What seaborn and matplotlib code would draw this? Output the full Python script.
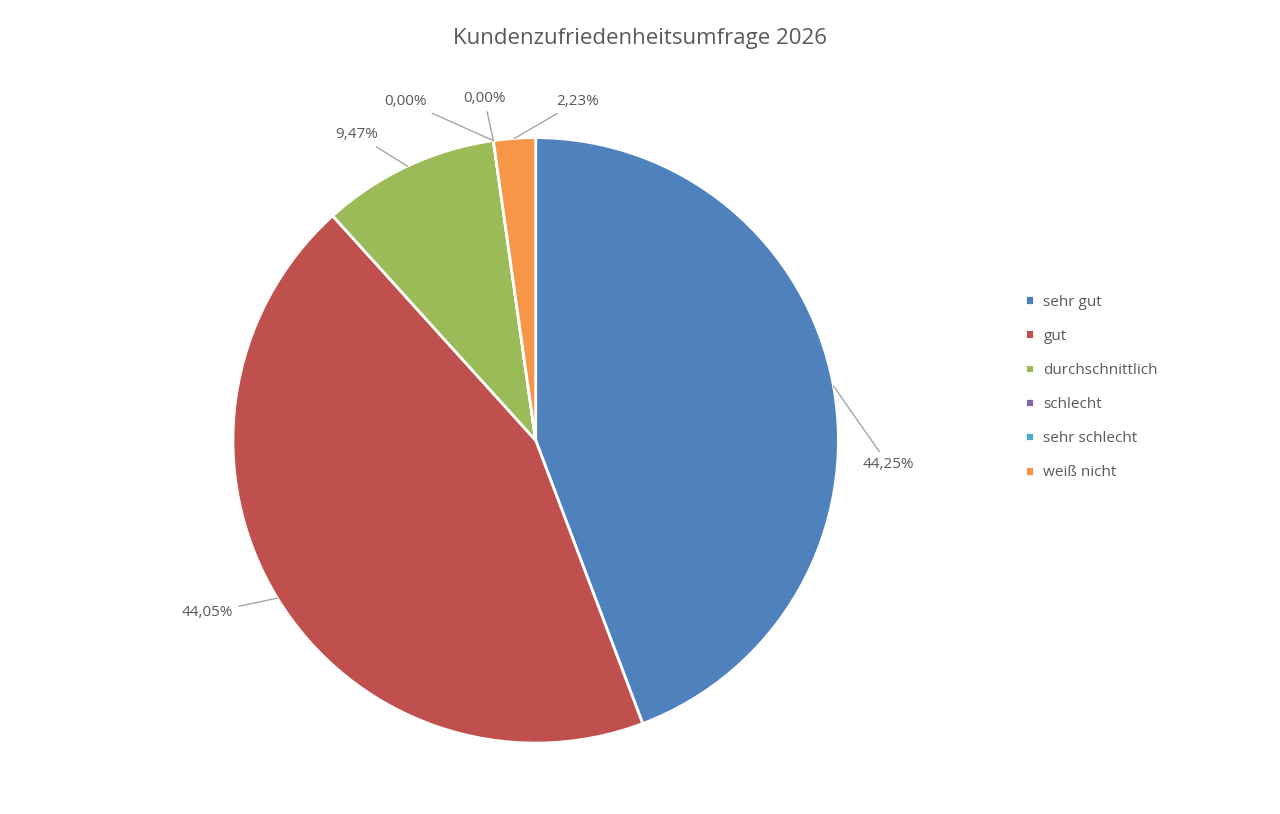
import numpy as np
import matplotlib
matplotlib.use("Agg")
import matplotlib.pyplot as plt
import seaborn as sns

sns.set_theme(style="white")
plt.rcParams['font.family'] = ['Open Sans', 'DejaVu Sans']

categories = ["sehr gut", "gut", "durchschnittlich", "schlecht", "sehr schlecht", "weiß nicht"]
values = [44.25, 44.05, 9.47, 0.0, 0.0, 2.23]
labels = ["44,25%", "44,05%", "9,47%", "0,00%", "0,00%", "2,23%"]
colors = ["#4F81BD", "#C0504D", "#9BBB59", "#8064A2", "#4BACC6", "#F79646"]

# label text positions (pie units) and alignment
text_pos = [(1.08, -0.08, "left"), (-1.0, -0.57, "right"), (-0.52, 1.01, "right"),
            (-0.43, 1.12, "center"), (-0.17, 1.13, "center"), (0.14, 1.12, "center")]

fig = plt.figure(figsize=(12.8, 8.14), dpi=100)
ax = fig.add_axes([0.182, 0.087, 0.473, 0.744])
wedges, _ = ax.pie(values, colors=colors, startangle=90, counterclock=False,
                   wedgeprops=dict(edgecolor="white", linewidth=2))
ax.set_xlim(-1, 1)
ax.set_ylim(-1, 1)
ax.set_aspect("equal")

grey = "#595959"
start = 90.0
for v, lab, (tx, ty, ha) in zip(values, labels, text_pos):
    mid = np.deg2rad(start - v * 3.6 / 2)
    start -= v * 3.6
    ax.annotate(lab, xy=(np.cos(mid), np.sin(mid)), xytext=(tx, ty), ha=ha, va="center",
                fontsize=11, color=grey, annotation_clip=False,
                arrowprops=dict(arrowstyle="-", color="#A6A6A6", lw=1, shrinkA=2, shrinkB=0))

fig.text(0.5, 0.953, "Kundenzufriedenheitsumfrage 2026", ha="center", va="center",
         fontsize=16, color=grey)

leg = fig.legend(wedges, categories, loc="upper left", bbox_to_anchor=(0.79, 0.655),
                 frameon=False, fontsize=11, handlelength=0.6, handleheight=0.6,
                 handletextpad=0.6, labelspacing=1.25)
for t in leg.get_texts():
    t.set_color(grey)

fig.savefig("out.png", dpi=100, facecolor="white")
